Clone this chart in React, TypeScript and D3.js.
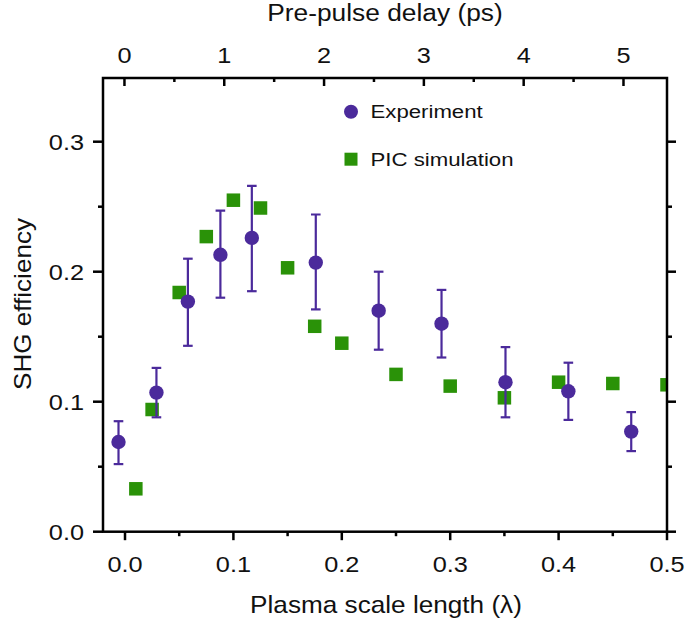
import React, { useRef, useEffect } from 'react'
import * as d3 from 'd3'

// Plasma scale length (λ) for the experiment points
const expX = [-0.006, 0.029, 0.058, 0.088, 0.117, 0.176, 0.234, 0.292, 0.351, 0.409, 0.467]
const expY = [0.069, 0.107, 0.177, 0.213, 0.226, 0.207, 0.170, 0.160, 0.115, 0.108, 0.077]
const expHi = [0.085, 0.126, 0.210, 0.247, 0.266, 0.244, 0.200, 0.186, 0.142, 0.130, 0.092]
const expLo = [0.052, 0.088, 0.143, 0.180, 0.185, 0.171, 0.140, 0.134, 0.088, 0.086, 0.062]

// PIC simulation
const simX = [0.01, 0.025, 0.05, 0.075, 0.1, 0.125, 0.15, 0.175, 0.2, 0.25, 0.3, 0.35, 0.4, 0.45, 0.5]
const simY = [0.033, 0.094, 0.184, 0.227, 0.255, 0.249, 0.203, 0.158, 0.145, 0.121, 0.112, 0.103, 0.115, 0.114, 0.113]

const xTicks = [0, 0.1, 0.2, 0.3, 0.4, 0.5]
const xMinor = [0.05, 0.15, 0.25, 0.35, 0.45]
const yTicks = [0, 0.1, 0.2, 0.3]
const yMinor = [0.05, 0.15, 0.25]
const psTicks = [0, 1, 2, 3, 4, 5]
const psMinor = [0.5, 1.5, 2.5, 3.5, 4.5]

const legendItems = ["Experiment", "PIC simulation"]

const purple = "#4b2a9b"
const green = "#2a9208"
const font = "'Liberation Sans', Arial, sans-serif"

export default function App() {
  const ref = useRef<SVGSVGElement>(null)

  const layout = { left: 103, right: 667, top: 78, bottom: 531.7 }

  useEffect(() => {
    const svg = d3.select(ref.current)
    const g = svg.select("g#chart")
    g.selectAll("*").remove()

    const x = d3.scaleLinear().domain([-0.0203, 0.5]).range([layout.left, layout.right])
    const xTop = d3.scaleLinear().domain([-0.215, 5.436]).range([layout.left, layout.right])
    const y = d3.scaleLinear().domain([0, 0.349]).range([layout.bottom, layout.top])

    const label = (sel, txt, px, py, size, sx, anchor, rot = 0) => {
      sel.append("text")
        .attr("transform", `translate(${px},${py}) rotate(${rot}) scale(${sx},1)`)
        .attr("text-anchor", anchor)
        .attr("font-family", font)
        .attr("font-size", size)
        .attr("fill", "#111")
        .text(txt)
    }

    svg.select("defs").selectAll("*").remove()
    svg.select("defs").append("clipPath").attr("id", "plotClip")
      .append("rect")
      .attr("x", layout.left).attr("y", layout.top)
      .attr("width", layout.right - layout.left).attr("height", layout.bottom - layout.top)

    const plot = g.append("g").attr("clip-path", "url(#plotClip)")

    // simulation squares
    const sq = 13.5
    plot.selectAll(".sim")
      .data(simX)
      .join("rect")
      .attr("class", "sim")
      .attr("x", (d) => x(d) - sq / 2)
      .attr("y", (d, i) => y(simY[i]) - sq / 2)
      .attr("width", sq)
      .attr("height", sq)
      .attr("fill", green)

    // experiment error bars
    const bars = plot.selectAll(".err").data(expX).join("g").attr("class", "err")
      .attr("stroke", purple).attr("stroke-width", 2.2)
    bars.append("line")
      .attr("x1", d => x(d)).attr("x2", d => x(d))
      .attr("y1", (d, i) => y(expLo[i])).attr("y2", (d, i) => y(expHi[i]))
    bars.append("line")
      .attr("x1", d => x(d) - 4.8).attr("x2", d => x(d) + 4.8)
      .attr("y1", (d, i) => y(expLo[i])).attr("y2", (d, i) => y(expLo[i]))
    bars.append("line")
      .attr("x1", d => x(d) - 4.8).attr("x2", d => x(d) + 4.8)
      .attr("y1", (d, i) => y(expHi[i])).attr("y2", (d, i) => y(expHi[i]))

    plot.selectAll(".exp")
      .data(expX)
      .join("circle")
      .attr("class", "exp")
      .attr("cx", d => x(d))
      .attr("cy", (d, i) => y(expY[i]))
      .attr("r", 7.2)
      .attr("fill", purple)

    // frame
    g.append("rect")
      .attr("x", layout.left).attr("y", layout.top)
      .attr("width", layout.right - layout.left).attr("height", layout.bottom - layout.top)
      .attr("fill", "none").attr("stroke", "#000").attr("stroke-width", 2.5)

    const ticks = g.append("g").attr("stroke", "#000").attr("stroke-width", 2.5)
    // bottom (outward)
    xTicks.forEach(t => ticks.append("line").attr("x1", x(t)).attr("x2", x(t)).attr("y1", layout.bottom).attr("y2", layout.bottom + 8.5))
    xMinor.forEach(t => ticks.append("line").attr("x1", x(t)).attr("x2", x(t)).attr("y1", layout.bottom).attr("y2", layout.bottom + 4.5))
    // top (inward)
    psTicks.forEach(t => ticks.append("line").attr("x1", xTop(t)).attr("x2", xTop(t)).attr("y1", layout.top).attr("y2", layout.top + 8))
    psMinor.forEach(t => ticks.append("line").attr("x1", xTop(t)).attr("x2", xTop(t)).attr("y1", layout.top).attr("y2", layout.top + 4))
    // left and right (outward)
    yTicks.forEach(t => {
      ticks.append("line").attr("x1", layout.left - 10).attr("x2", layout.left).attr("y1", y(t)).attr("y2", y(t))
      ticks.append("line").attr("x1", layout.right).attr("x2", layout.right + 9).attr("y1", y(t)).attr("y2", y(t))
    })
    yMinor.forEach(t => {
      ticks.append("line").attr("x1", layout.left - 5).attr("x2", layout.left).attr("y1", y(t)).attr("y2", y(t))
      ticks.append("line").attr("x1", layout.right).attr("x2", layout.right + 5).attr("y1", y(t)).attr("y2", y(t))
    })

    // tick labels
    xTicks.forEach(t => label(g, d3.format(".1f")(t), x(t), 571.5, 22, 1.15, "middle"))
    yTicks.forEach(t => label(g, d3.format(".1f")(t), 84, y(t) + 8, 22, 1.15, "end"))
    psTicks.forEach(t => label(g, String(t), xTop(t), 63.3, 22, 1.15, "middle"))

    // axis titles
    label(g, "Plasma scale length (λ)", 386, 613, 24, 1.09, "middle")
    label(g, "Pre-pulse delay (ps)", 385, 20.7, 23.5, 1.12, "middle")
    label(g, "SHG efficiency", 31, 304, 23.5, 1.11, "middle", -90)

    // legend
    const leg = g.append("g")
    legendItems.forEach((d, i) => {
      const cy = 111.7 + i * 47.5
      if (i === 0) {
        leg.append("circle").attr("cx", 351).attr("cy", cy).attr("r", 7).attr("fill", purple)
      } else {
        leg.append("rect").attr("x", 351 - 6.5).attr("y", cy - 6.5).attr("width", 13).attr("height", 13).attr("fill", green)
      }
      label(leg, d, 370.5, cy + 6.7, 18.5, 1.2, "start")
    })
  }, [])

  return (
    <svg ref={ref} width={685} height={618} style={{ position: "absolute", left: 0, top: 0, background: "#fff" }}>
      <defs />
      <g id="chart" />
    </svg>
  )
}
